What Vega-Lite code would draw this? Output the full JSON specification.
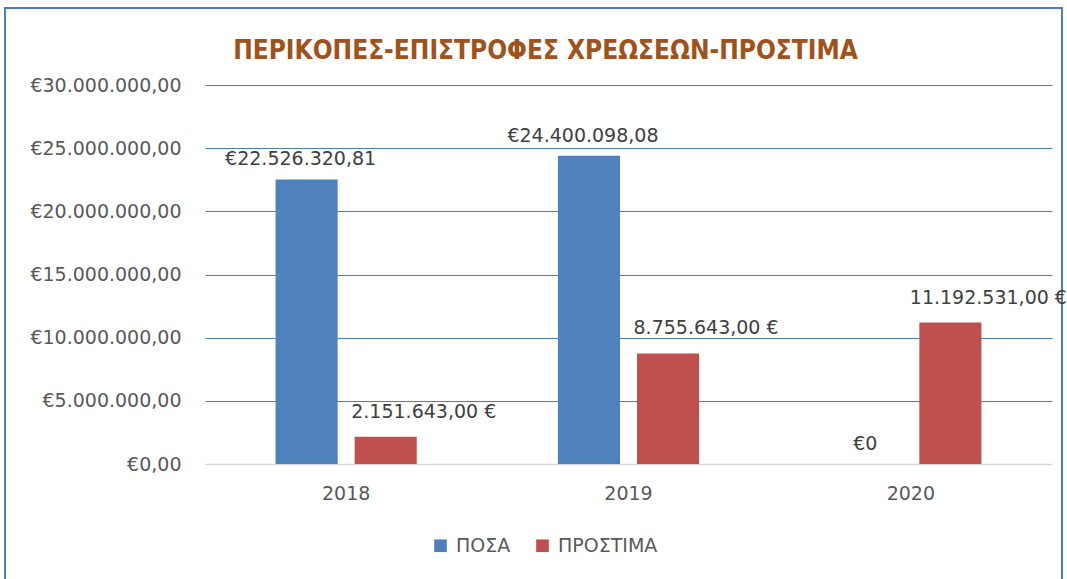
{
  "$schema": "https://vega.github.io/schema/vega-lite/v6.json",
  "width": 1057,
  "height": 585,
  "autosize": {"type": "none"},
  "padding": {"left": 5, "top": 8, "right": 5, "bottom": 0},
  "background": "white",
  "title": {
    "text": "ΠΕΡΙΚΟΠΕΣ-ΕΠΙΣΤΡΟΦΕΣ ΧΡΕΩΣΕΩΝ-ΠΡΟΣΤΙΜΑ",
    "anchor": "middle",
    "frame": "group",
    "offset": -56,
    "dx": 12,
    "font": "DejaVu Sans Condensed",
    "fontWeight": "bold",
    "fontSize": 26,
    "color": "#A0521A"
  },
  "config": {
    "locale": {"number": {"decimal": ",", "thousands": ".", "grouping": [3], "currency": ["€", ""]}},
    "view": {"stroke": "#4A7EBB", "strokeWidth": 2},
    "font": "DejaVu Sans"
  },
  "data": {
    "values": [
      {"year": "2018", "series": "ΠΟΣΑ", "value": 22526320.81, "label": "€22.526.320,81"},
      {"year": "2018", "series": "ΠΡΟΣΤΙΜΑ", "value": 2151643.00, "label": "2.151.643,00 €"},
      {"year": "2019", "series": "ΠΟΣΑ", "value": 24400098.08, "label": "€24.400.098,08"},
      {"year": "2019", "series": "ΠΡΟΣΤΙΜΑ", "value": 8755643.00, "label": "8.755.643,00 €"},
      {"year": "2020", "series": "ΠΟΣΑ", "value": 0, "label": "€0"},
      {"year": "2020", "series": "ΠΡΟΣΤΙΜΑ", "value": 11192531.00, "label": "11.192.531,00 €"}
    ]
  },
  "encoding": {
    "x": {
      "field": "year",
      "type": "nominal",
      "scale": {"range": [200, 1047], "paddingInner": 0.5, "paddingOuter": 0.25},
      "axis": {
        "title": null,
        "orient": "bottom",
        "offset": -129,
        "labelAngle": 0,
        "labelFontSize": 19,
        "labelColor": "#595959",
        "labelPadding": 20,
        "ticks": false,
        "domainColor": "#D9D9D9",
        "domainWidth": 1.5,
        "grid": false
      }
    },
    "xOffset": {"field": "series", "type": "nominal", "scale": {"paddingInner": 0.215, "paddingOuter": 0}},
    "y": {
      "field": "value",
      "type": "quantitative",
      "scale": {"domain": [0, 30000000], "range": [456, 77], "nice": false},
      "axis": {
        "title": null,
        "orient": "left",
        "offset": -200,
        "values": [0, 5000000, 10000000, 15000000, 20000000, 25000000, 30000000],
        "format": "$,.2f",
        "labelFontSize": 19,
        "labelColor": "#595959",
        "labelPadding": 24,
        "ticks": false,
        "domain": false,
        "grid": true,
        "gridColor": {"condition": {"test": "datum.value === 0", "value": "#D9D9D9"}, "value": "#4A7EBB"},
        "gridWidth": 1.2
      }
    }
  },
  "layer": [
    {
      "mark": {"type": "bar"},
      "encoding": {
        "color": {
          "field": "series",
          "type": "nominal",
          "scale": {"domain": ["ΠΟΣΑ", "ΠΡΟΣΤΙΜΑ"], "range": ["#4F81BD", "#C0504D"]},
          "legend": {
            "title": null,
            "orient": "none",
            "direction": "horizontal",
            "legendX": 426,
            "legendY": 528,
            "symbolType": "square",
            "symbolSize": 160,
            "symbolStrokeWidth": 0,
            "labelFontSize": 19,
            "labelColor": "#595959",
            "columnPadding": 22,
            "labelOffset": 6
          }
        }
      }
    },
    {
      "transform": [{"filter": "datum.series === 'ΠΟΣΑ'"}],
      "mark": {"type": "text", "baseline": "bottom", "dy": -10, "dx": -6, "fontSize": 19, "color": "#404040"},
      "encoding": {"text": {"field": "label"}}
    },
    {
      "transform": [{"filter": "datum.series === 'ΠΡΟΣΤΙΜΑ'"}],
      "mark": {"type": "text", "baseline": "bottom", "dy": -15, "dx": 38, "fontSize": 19, "color": "#404040"},
      "encoding": {"text": {"field": "label"}}
    }
  ]
}
